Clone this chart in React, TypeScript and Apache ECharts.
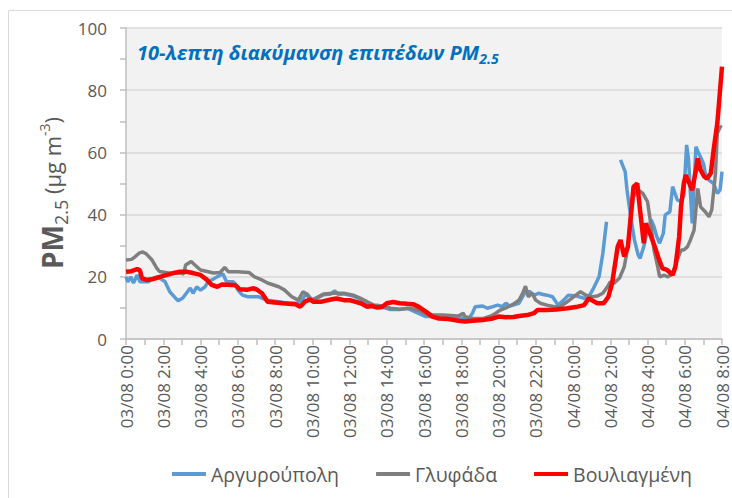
import React, { useEffect, useRef } from "react";
import * as echarts from "echarts";

// x positions are hours since 03/08 0:00
const xTickLabels = [
  "03/08 0:00", "03/08 2:00", "03/08 4:00", "03/08 6:00", "03/08 8:00",
  "03/08 10:00", "03/08 12:00", "03/08 14:00", "03/08 16:00", "03/08 18:00",
  "03/08 20:00", "03/08 22:00", "04/08 0:00", "04/08 2:00", "04/08 4:00",
  "04/08 6:00", "04/08 8:00",
];
const seriesNames = ["Αργυρούπολη", "Γλυφάδα", "Βουλιαγμένη"];
const seriesColors = ["#5B9BD5", "#7F7F7F", "#FF0000"];

const argyroupoliHours = [
  0, 0.1, 0.25, 0.4, 0.6, 0.75, 1.2, 1.45, 1.7, 2.1, 2.35, 2.65, 2.8, 3.05, 3.3, 3.45, 3.6, 3.8, 4.0, 4.25,
  4.4, 4.6, 4.9, 5.05, 5.2, 5.4, 5.75, 5.85, 6.0, 6.25, 6.55, 7.1, 7.35, 7.6, 8.2, 8.7, 9.2, 9.5, 9.7, 10.0,
  10.3, 10.6, 11.0, 11.2, 11.4, 11.7, 12.2, 12.6, 12.95, 13.3, 13.8, 14.2, 14.7, 15.1, 15.5, 16.1, 16.8, 17.85, 18.4, 18.6,
  18.75, 19.15, 19.4, 19.7, 19.95, 20.2, 20.4, 20.6, 21.1, 21.45, 21.7, 21.9, 22.15, 22.4, 22.6, 22.9, 23.2, 23.5, 23.75, 24.2,
  24.6, 24.85, 25.1, 25.4, 25.6, 25.8, 26.2, 26.55, 26.8, 26.9, 27.1, 27.3, 27.5, 27.6, 27.8, 28.0, 28.2, 28.35, 28.5, 28.65,
  28.85, 28.95, 29.2, 29.35, 29.6, 29.8, 29.95, 30.1, 30.2, 30.4, 30.6, 30.75, 31.0, 31.1, 31.3, 31.55, 31.75, 31.9, 32,
];
const argyroupoliValues = [
  20, 18.4, 20, 18, 20.6, 18.4, 18.4, 19.5, 20, 18.4, 15.2, 13.2, 12.3, 13.2, 15.2, 16.4, 14.7, 16.8, 15.7, 16.8,
  18.4, 19, 20, 20.5, 21, 18.4, 18.4, 17.9, 15.8, 14.1, 13.6, 13.6, 13, 12.5, 12, 11.5, 11.5, 13, 14.7, 12.5,
  13.3, 14.2, 14.5, 15.5, 14.3, 14.5, 13.8, 12.8, 11.5, 10.5, 10.2, 9.5, 9.5, 9.9, 8.8, 7.2, 7.2, 6.8, 6.6, 8.3,
  10.4, 10.6, 9.9, 10.4, 10.9, 10.4, 11.5, 10.6, 11.5, 15.2, 15.2, 14.1, 14.7, 14.3, 14.1, 13.6, 10.9, 12.5, 14.1, 13.8,
  13.1, 13.6, 16.3, 20, 27.5, 37.7, null, 57.6, 53.8, 47.9, 39.3, 31.8, 27, 25.9, 29.7, 35, 38.3, 36.1, 32.9, 30.8,
  34, 39.9, 40.9, 49, 44.7, 44.2, 46, 62.4, 58, 37.2, 61.8, 59.7, 56.5, 53.3, 51.1, 50, 46.8, 48, 53.8,
];

const glyfadaHours = [
  0, 0.3, 0.5, 0.7, 0.9, 1.1, 1.4, 1.65, 1.8, 2.3, 2.9, 3.1, 3.2, 3.5, 3.7, 4.0, 4.35, 4.7, 5.05, 5.3,
  5.5, 6.0, 6.6, 6.9, 7.3, 7.6, 8.2, 8.5, 8.9, 9.25, 9.5, 9.7, 9.9, 10.15, 10.4, 10.6, 11.1, 11.7, 12.2, 12.6,
  12.95, 13.3, 13.8, 14.2, 14.7, 15.3, 15.5, 15.8, 16.2, 17.0, 17.85, 18.1, 18.2, 18.6, 19.2, 19.6, 19.85, 20.1, 20.4, 20.8,
  21.1, 21.3, 21.45, 21.6, 21.8, 22.0, 22.25, 22.6, 23.0, 23.3, 23.7, 24.05, 24.4, 24.7, 25.05, 25.3, 25.6, 25.85, 26.0, 26.2,
  26.5, 26.75, 26.95, 27.1, 27.25, 27.5, 27.75, 28.0, 28.2, 28.35, 28.55, 28.65, 28.9, 29.1, 29.35, 29.6, 29.8, 29.95, 30.15, 30.3,
  30.5, 30.7, 30.85, 31.1, 31.3, 31.45, 31.65, 31.75, 31.9, 32,
];
const glyfadaValues = [
  25.4, 25.6, 26.5, 27.6, 28, 27.3, 25.4, 22.8, 21.7, 21.2, 21.2, 20.9, 23.8, 24.9, 23.8, 22.2, 21.7, 21.2, 21.4, 23,
  21.6, 21.6, 21.4, 20, 19, 18, 16.8, 15.8, 13.6, 12.5, 15.2, 14.5, 12.5, 13, 13.8, 14.5, 14.7, 14.7, 14.1, 13.1,
  12, 10.9, 10.6, 9.9, 9.6, 9.9, 9.5, 9.0, 7.7, 7.7, 7.4, 8.3, 7.2, 6.6, 6.6, 7.4, 8.3, 9.3, 10, 11.2,
  12.5, 14.7, 17, 13.6, 14.7, 12.5, 11.5, 10.9, 10.4, 10.4, 12, 13.6, 15.2, 14.1, 13.6, 13.8, 14.7, 16.8, 18.4, 17.9,
  19.6, 23.2, 29.7, 39.3, 45.8, 47.9, 46.8, 44.2, 36.1, 28.6, 23.2, 20, 20.5, 20, 21.1, 25.4, 28.6, 28.6, 29.7, 31.8,
  35, 48.4, 42.5, 40.9, 39.3, 41.5, 53.3, 66.1, 68.3, 68,
];

const vouliagmeniHours = [
  0, 0.3, 0.6, 0.75, 0.85, 1.1, 1.45, 2.0, 2.55, 2.9, 3.25, 3.6, 4.0, 4.35, 4.6, 4.9, 5.15, 5.7, 5.9, 6.1,
  6.5, 6.8, 7.0, 7.3, 7.6, 8.4, 9.1, 9.35, 9.6, 9.9, 10.05, 10.5, 11.0, 11.3, 11.7, 12.0, 12.6, 12.95, 13.2, 13.5,
  13.75, 14.0, 14.35, 14.7, 15.1, 15.4, 15.7, 16.1, 16.45, 16.8, 17.3, 17.85, 18.2, 18.6, 19.15, 19.7, 20.0, 20.4, 20.8, 21.1,
  21.55, 21.9, 22.1, 22.6, 23.1, 23.7, 24.25, 24.6, 24.85, 25.0, 25.3, 25.65, 25.9, 26.1, 26.4, 26.55, 26.75, 26.95, 27.1, 27.25,
  27.45, 27.6, 27.8, 27.9, 28.2, 28.45, 28.6, 28.8, 29.05, 29.35, 29.5, 29.7, 29.8, 29.95, 30.05, 30.25, 30.4, 30.6, 30.7, 30.85,
  31.05, 31.2, 31.4, 31.55, 31.75, 32,
];
const vouliagmeniValues = [
  21.6, 21.8, 22.5, 22, 19.6, 19, 19.3, 20.3, 21.2, 21.6, 21.6, 21.2, 20.6, 19, 17.4, 16.8, 17.5, 17.4, 17.2, 16,
  15.8, 16.3, 16, 14.7, 12, 11.5, 11.2, 10.4, 12, 12.7, 12, 12, 12.7, 13, 12.5, 12.5, 11.5, 10.4, 10.6, 10.1,
  10.3, 11.5, 11.9, 11.5, 11.3, 11.2, 10.4, 8.8, 7.2, 6.6, 6.4, 5.9, 5.6, 5.9, 6.1, 6.6, 7.2, 7.0, 7.1, 7.4,
  7.7, 8.3, 9.3, 9.3, 9.5, 9.9, 10.4, 10.9, 13.1, 12.5, 11.5, 11.5, 13.6, 17.9, 29.7, 31.8, 26.5, 29.7, 39.3, 49,
  50, 41.5, 30.8, 37.2, 32.9, 28.6, 25.9, 22.7, 22.2, 20.6, 23.2, 32.9, 42.5, 50, 52.7, 50, 47.9, 54.3, 58.1, 54.3,
  52.2, 51.6, 53.3, 60.8, 69.4, 87.6,
];

const yTicks = { min: 0, max: 100, interval: 20 };
const FONT = "'Open Sans', sans-serif";

const toPairs = (hours: number[], values: (number | null)[]) =>
  hours.map((h, i) => [h, values[i] === null ? "-" : values[i]]);

export default function App() {
  const ref = useRef<HTMLDivElement>(null);
  useEffect(() => {
    if (!ref.current) return;
    const chart = echarts.init(ref.current, null, { renderer: "svg" });
    const seriesData = [
      toPairs(argyroupoliHours, argyroupoliValues),
      toPairs(glyfadaHours, glyfadaValues),
      toPairs(vouliagmeniHours, vouliagmeniValues),
    ];
    const axisGray = "#BFBFBF";
    const titleBlue = "#0070C0";
    const labelGray = "#595959";
    chart.setOption({
      animation: false,
      textStyle: { fontFamily: FONT },
      grid: {
        left: 126,
        right: 10,
        top: 28,
        bottom: 159,
        show: true,
        backgroundColor: "#F2F2F2",
        borderWidth: 0,
        containLabel: false,
        outerBoundsMode: "none",
      },
      xAxis: {
        type: "value",
        min: 0,
        max: 32,
        interval: 2,
        axisLine: { show: true, lineStyle: { color: axisGray, width: 1.5 } },
        axisTick: { show: true, length: 6, lineStyle: { color: axisGray, width: 1.5 } },
        minorTick: { show: true, splitNumber: 2, length: 6, lineStyle: { color: axisGray, width: 1.5 } },
        splitLine: { show: false },
        axisLabel: {
          rotate: 90,
          margin: 6,
          fontSize: 17,
          color: labelGray,
          fontFamily: FONT,
          formatter: (v: number) => xTickLabels[Math.round(v / 2)] ?? "",
        },
      },
      yAxis: {
        type: "value",
        min: yTicks.min,
        max: yTicks.max,
        interval: yTicks.interval,
        axisLine: { show: true, lineStyle: { color: axisGray, width: 1.5 } },
        axisTick: { show: true, length: 6, lineStyle: { color: axisGray, width: 1.5 } },
        minorTick: { show: true, splitNumber: 2, length: 6, lineStyle: { color: axisGray, width: 1.5 } },
        splitLine: { show: true, lineStyle: { color: "#D9D9D9", width: 1.5 } },
        axisLabel: { fontSize: 17, color: labelGray, margin: 19, fontFamily: FONT },
      },
      legend: {
        left: 167,
        top: 459,
        icon: "rect",
        itemWidth: 34,
        itemHeight: 4,
        itemGap: 37,
        textStyle: { fontSize: 19.5, color: labelGray, fontFamily: FONT },
        data: seriesNames,
      },
      series: seriesNames.map((name, i) => ({
        name,
        type: "line",
        data: seriesData[i],
        symbol: "none",
        showSymbol: false,
        connectNulls: false,
        lineStyle: { color: seriesColors[i], width: i === 2 ? 4.5 : 3.5 },
        itemStyle: { color: seriesColors[i] },
        z: 2 + i,
      })),
      graphic: [
        {
          type: "rect",
          silent: true,
          z: -10,
          shape: { x: 8.5, y: 10.5, width: 740, height: 500 },
          style: { fill: "none", stroke: "#D9D9D9", lineWidth: 1 },
        },
        {
          type: "text",
          x: 137,
          y: 52,
          z: 10,
          style: {
            text: "{t|10-λεπτη διακύμανση επιπέδων PM}{s|2.5}",
            align: "left",
            verticalAlign: "middle",
            fill: titleBlue,
            rich: {
              t: { fontSize: 20, fontWeight: "bold", fontStyle: "italic", fill: titleBlue, fontFamily: FONT, lineHeight: 26 },
              s: { fontSize: 14, fontWeight: "bold", fontStyle: "italic", fill: titleBlue, fontFamily: FONT, lineHeight: 14, verticalAlign: "bottom" },
            },
          },
        },
        {
          type: "text",
          x: 52,
          y: 193,
          rotation: Math.PI / 2,
          z: 10,
          style: {
            text: "{pm|PM}{sub|2.5}{n| (μg m}{sup|-3}{n|)}",
            align: "center",
            verticalAlign: "middle",
            fill: labelGray,
            rich: {
              pm: { fontSize: 28, fontWeight: "bold", fill: labelGray, fontFamily: FONT, lineHeight: 36 },
              sub: { fontSize: 18, fill: labelGray, fontFamily: FONT, lineHeight: 18, verticalAlign: "bottom" },
              n: { fontSize: 22, fill: labelGray, fontFamily: FONT, lineHeight: 22 },
              sup: { fontSize: 14, fill: labelGray, fontFamily: FONT, lineHeight: 14, verticalAlign: "top", padding: [3, 0, 0, 0] },
            },
          },
        },
      ],
    });
    return () => chart.dispose();
  }, []);
  return (
    <div
      ref={ref}
      style={{ position: "fixed", left: 0, top: 0, width: 732, height: 498, background: "#fff" }}
    />
  );
}
